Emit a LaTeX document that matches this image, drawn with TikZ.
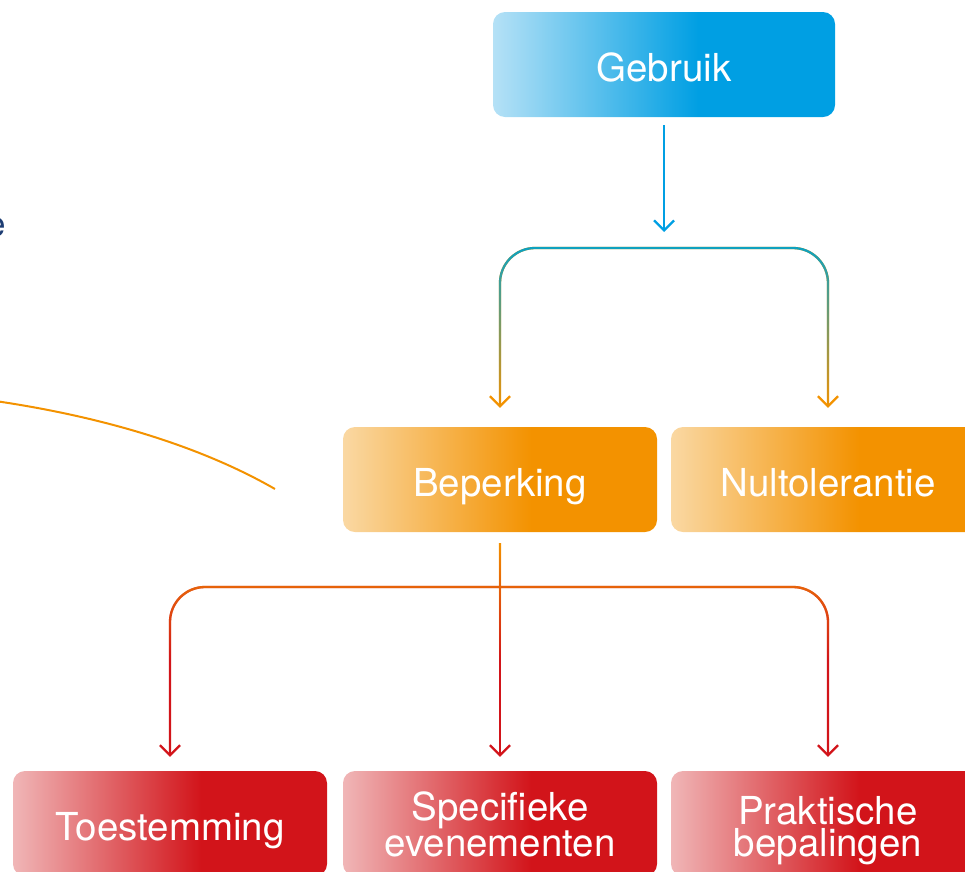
\documentclass[tikz,border=0pt]{standalone}
\usepackage{fontspec}
\setmainfont{TeX Gyre Heros}
\usetikzlibrary{arrows.meta, fadings}
\definecolor{gblue}{HTML}{009FE3}
\definecolor{gbluelight}{HTML}{B5E1F6}
\definecolor{gteal}{HTML}{0EA2C0}
\definecolor{gorange}{HTML}{F39200}
\definecolor{gorangelight}{HTML}{FAD8A3}
\definecolor{gred}{HTML}{D2141A}
\definecolor{gredlight}{HTML}{F0B6B7}
\definecolor{gnavy}{HTML}{1D3D73}
\pgfdeclarehorizontalshading{blueshade}{100bp}{color(0bp)=(gbluelight); color(25bp)=(gbluelight); color(55bp)=(gblue); color(100bp)=(gblue)}
\pgfdeclarehorizontalshading{orangeshade}{100bp}{color(0bp)=(gorangelight); color(25bp)=(gorangelight); color(55bp)=(gorange); color(100bp)=(gorange)}
\pgfdeclarehorizontalshading{redshade}{100bp}{color(0bp)=(gredlight); color(25bp)=(gredlight); color(55bp)=(gred); color(100bp)=(gred)}
\tikzfading[name=fadedown, top color=transparent!0, bottom color=transparent!100]
\tikzfading[name=fadelate, top color=transparent!0, middle color=transparent!0, bottom color=transparent!100]
\tikzstyle{box} = [rectangle, rounded corners=12pt, minimum width=314pt, minimum height=105pt, text centered, align=center, text=white, text height=34pt, text depth=0pt, font=\fontsize{38.5}{32}\selectfont]
\tikzstyle{usebox} = [box, minimum width=342pt, shade, shading=blueshade]
\tikzstyle{levelbox} = [box, shade, shading=orangeshade]
\tikzstyle{rulebox} = [box, shade, shading=redshade]
\tikzstyle{tworule} = [rulebox, text height=65pt]
\tikzstyle{arrow} = [line width=2.3pt, -{Straight Barb[length=10pt, width=20pt]}]
\tikzstyle{branch} = [line width=2.3pt, rounded corners=35pt]

\begin{document}
\begin{tikzpicture}[x=1pt, y=-1pt]
            \useasboundingbox (0,0) rectangle (965,871);
            \node [usebox] at (664,64.5) (gebruik) {Gebruik};
            \node [levelbox] at (500,479.5) (beperking) {Beperking};
            \node [levelbox] at (828,479.5) (nultolerantie) {Nultolerantie};
            \node [rulebox] at (170,823.5) (toestemming) {Toestemming};
            \node [tworule] at (500,823.5) (specifiek) {Specifieke\\evenementen};
            \node [tworule] at (828,823.5) (praktisch) {Praktische\\bepalingen};
            \node [anchor=base east, text=gnavy, font=\fontsize{35}{35}\selectfont] at (9.5,236.5) (fragment) {e};
            \coordinate (fork1) at (664,248);
            \coordinate (fork2) at (500,587);
            \draw [arrow, gblue] ([yshift=-8pt]gebruik.south) -- ([yshift=16pt]fork1);
            \draw [branch, arrow, gorange] (fork1) -| ([yshift=19pt]beperking.north);
            \draw [branch, arrow, gorange] (fork1) -| ([yshift=19pt]nultolerantie.north);
            \draw [branch, gteal, path fading=fadedown] ([yshift=19pt]beperking.north) |- (fork1) -| ([yshift=19pt]nultolerantie.north);
            \draw [arrow, gred] ([yshift=-11pt]beperking.south) -- ([yshift=14pt]specifiek.north);
            \draw [branch, arrow, gred] (fork2) -| ([yshift=14pt]toestemming.north);
            \draw [branch, arrow, gred] (fork2) -| ([yshift=14pt]praktisch.north);
            \draw [branch, gorange, path fading=fadelate] (170,660) |- (fork2) -| (828,660) (fork2) -- ([yshift=-11pt]beperking.south) (fork2) -- (500,660);
            \draw [gorange, line width=2pt] (0,401.7) .. controls (95,416) and (195,443) .. (275,489);
\end{tikzpicture}
\end{document}
